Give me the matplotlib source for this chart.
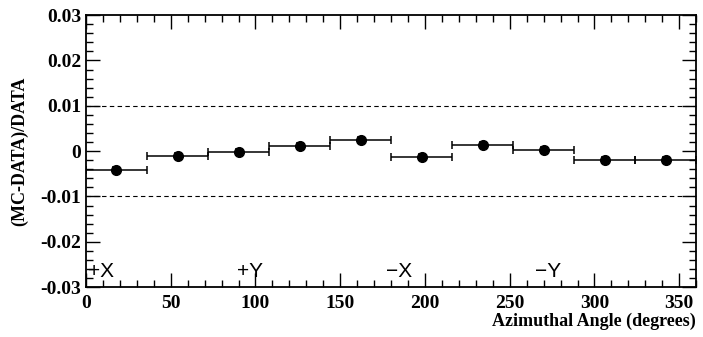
import numpy as np
import matplotlib.pyplot as plt
from matplotlib.ticker import MultipleLocator

# bin centres (degrees) and (MC-DATA)/DATA values
bin_centres = [18, 54, 90, 126, 162, 198, 234, 270, 306, 342]
bin_halfwidth = [18] * 10
ratio = [-0.0042, -0.0011, -0.0002, 0.0012, 0.0024, -0.0013, 0.0013, 0.0002, -0.0020, -0.0020]
ratio_err = [0.0007] * 10

region_labels = ["+X", "+Y", "\u2212X", "\u2212Y"]
region_pos = [1, 89, 177, 265]

plt.rcParams['font.family'] = ['Liberation Serif', 'DejaVu Serif']

fig = plt.figure(figsize=(7.03, 3.37), dpi=100)
ax = fig.add_axes([0.1223, 0.148, 0.868, 0.807])

ax.errorbar(bin_centres, ratio, xerr=bin_halfwidth, yerr=ratio_err, fmt='o',
            color='black', ms=7, elinewidth=1.1, capsize=3, capthick=1.1)

ax.axhline(0.01, color='black', ls=(0, (4, 3)), lw=0.8)
ax.axhline(-0.01, color='black', ls=(0, (4, 3)), lw=0.8)

for lab, xp in zip(region_labels, region_pos):
    ax.text(xp, -0.0265, lab, fontsize=15, family=['Liberation Sans', 'DejaVu Sans'],
            va='center', ha='left')

ax.set_xlim(0, 360)
ax.set_ylim(-0.03, 0.03)
ax.xaxis.set_major_locator(MultipleLocator(50))
ax.xaxis.set_minor_locator(MultipleLocator(10))
ax.yaxis.set_major_locator(MultipleLocator(0.01))
ax.yaxis.set_minor_locator(MultipleLocator(0.002))
ax.set_yticks([-0.03, -0.02, -0.01, 0, 0.01, 0.02, 0.03])
ax.set_yticklabels(["-0.03", "-0.02", "-0.01", "0", "0.01", "0.02", "0.03"])
ax.tick_params(which='both', direction='in', top=True, right=True, width=1.0)
ax.tick_params(which='major', length=10)
ax.tick_params(which='minor', length=5)
ax.tick_params(axis='x', which='major', pad=6)
for lab in ax.get_xticklabels() + ax.get_yticklabels():
    lab.set_fontweight('bold')
    lab.set_fontsize(14)
for sp in ax.spines.values():
    sp.set_linewidth(1.3)

ax.set_ylabel("(MC-DATA)/DATA", fontsize=13, fontweight='bold')
ax.yaxis.set_label_coords(-0.095, 0.5)
ax.set_xlabel("Azimuthal Angle (degrees)", fontsize=13, fontweight='bold')
ax.xaxis.set_label_coords(1.0, -0.095)
ax.xaxis.label.set_horizontalalignment('right')

fig.savefig("out.png", dpi=100)
